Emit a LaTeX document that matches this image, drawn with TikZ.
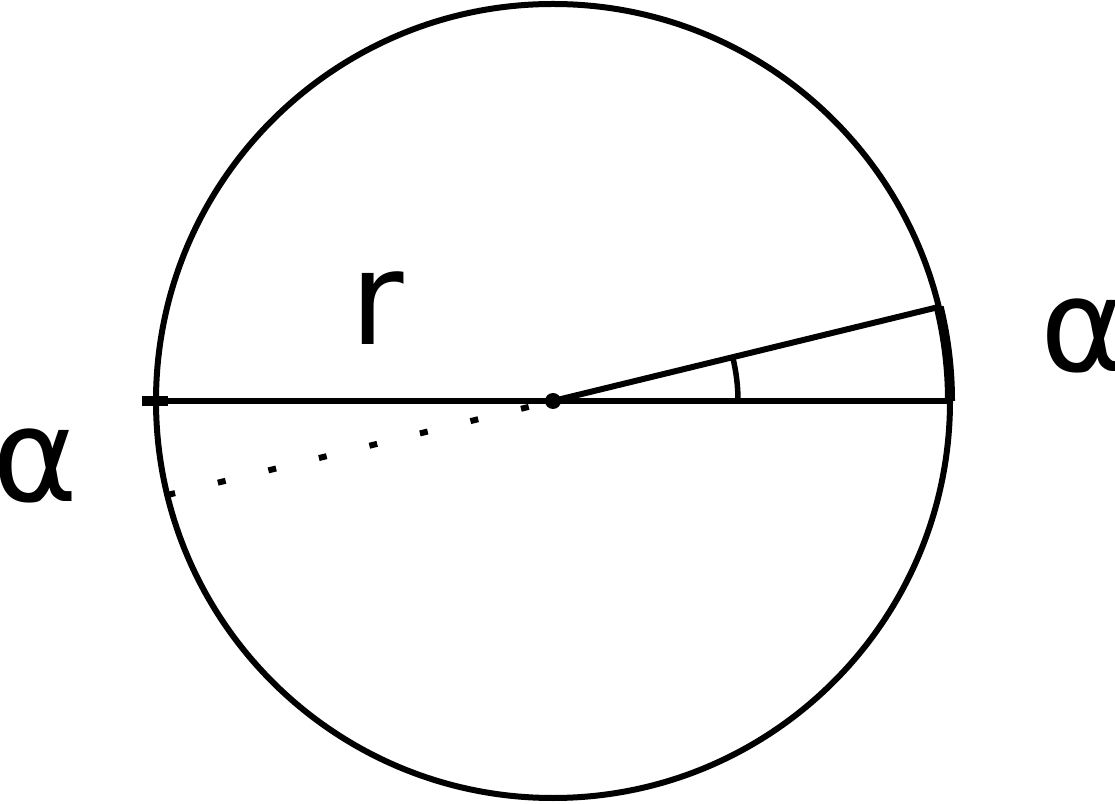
\documentclass[tikz,border=0pt]{standalone}
\usepackage{fontspec}
\setmainfont{DejaVu Sans}
\usetikzlibrary{calc}
\begin{document}
\begin{tikzpicture}[x=1pt,y=1pt,
  rim/.style={line width=6pt},
  thickarc/.style={line width=10pt},
  anglemark/.style={line width=5.5pt},
  lbl/.style={inner sep=0pt,anchor=base,font=\fontsize{130}{130}\selectfont}]
\useasboundingbox (0,0) rectangle (1115,803);
\coordinate (O) at (553,402);
\draw[rim] (O) circle (397);
\coordinate (E) at ($(O)+(0:397)$);
\coordinate (W) at ($(O)+(180:397)$);
\coordinate (P) at ($(O)+(13.7:397)$);
\coordinate (Q) at ($(O)+(193.7:397)$);
\coordinate (Wa) at (142,402);
\coordinate (Wb) at (168,402);
\draw[rim] (W) -- (E);
\draw[rim] (O) -- (P);
\draw[thickarc] (E) arc[start angle=0,end angle=13.7,radius=397];
\draw[thickarc] (Wa) -- (Wb);
\draw[anglemark] ($(O)+(0:185)$) arc[start angle=0,end angle=13.7,radius=185];
\draw[rim,dash pattern=on 8pt off 44pt] (Q) -- (O);
\fill (O) circle (8);
\node[lbl] (r) at (377,458) {r};
\node[lbl] (a1) at (1083,431) {α};
\node[lbl] (a2) at (35,301) {α};
\end{tikzpicture}
\end{document}
